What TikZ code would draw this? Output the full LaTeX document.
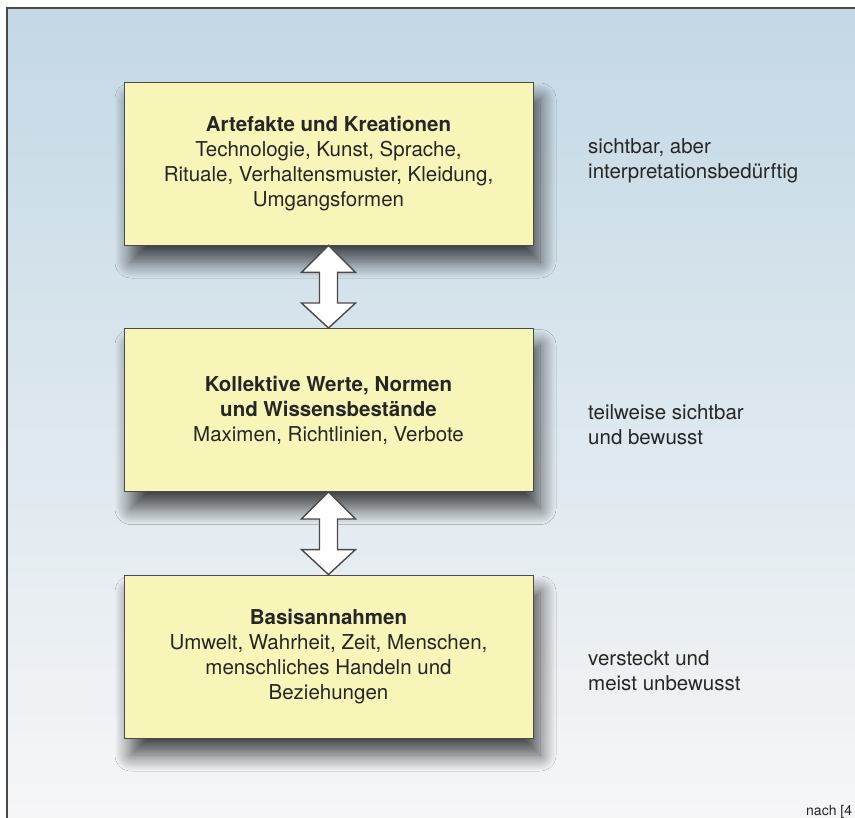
\documentclass[tikz,border=0pt]{standalone}
\usepackage{fontspec}
\setmainfont{TeX Gyre Heros}
\usetikzlibrary{calc,shadows.blur}
\definecolor{bgtop}{HTML}{C3D8E5}
\definecolor{bgmid}{HTML}{D6E2EA}
\definecolor{bgbot}{HTML}{F6F6F7}
\definecolor{boxfill}{HTML}{F8F5B9}
\definecolor{inkgray}{HTML}{262626}
\definecolor{framegray}{HTML}{4A4A4A}
\begin{document}
\begin{tikzpicture}[
    x=1pt, y=-1pt,
    layerbox/.style={draw=framegray, line width=0.9pt, fill=boxfill,
      minimum width=409pt, minimum height=163pt, inner sep=0pt,
      align=center, text=inkgray, font=\fontsize{20.5}{25}\selectfont,
      blur shadow={shadow xshift=7pt, shadow yshift=-17pt,
        shadow blur radius=16pt, shadow blur steps=16, shadow opacity=70}},
    sidelbl/.style={anchor=west, align=left, inner sep=0pt, text=inkgray,
      font=\fontsize{20.5}{25}\selectfont},
    dblarrow/.style={draw=framegray, line width=1.4pt, fill=white, line join=miter}
  ]
  \useasboundingbox (0,0) rectangle (855,818);
  % hintergrund und rahmen
  \shade[top color=bgtop, middle color=bgmid, bottom color=bgbot]
    (7,8) rectangle (855,818);
  \draw[framegray, line width=1.5pt] (7,818) -- (7,8) -- (855,8);

  % ebenen
  \node[layerbox] (artefakte) at (328.5,163.5)
    {\textbf{Artefakte und Kreationen}\\
     Technologie, Kunst, Sprache,\\
     Rituale, Verhaltensmuster, Kleidung,\\
     Umgangsformen};
  \node[layerbox] (werte) at (328.5,410)
    {\textbf{Kollektive Werte, Normen}\\
     \textbf{und Wissensbestände}\\
     Maximen, Richtlinien, Verbote};
  \node[layerbox] (basis) at (328.5,656.5)
    {\textbf{Basisannahmen}\\
     Umwelt, Wahrheit, Zeit, Menschen,\\
     menschliches Handeln und\\
     Beziehungen};

  % doppelpfeile
  \foreach \oben/\unten in {artefakte/werte, werte/basis}{
    \draw[dblarrow] (\oben.south) -- ++(27,27) -- ++(-18,0)
      -- ($(\unten.north)+(9,-25)$) -- ++(18,0) -- (\unten.north)
      -- ++(-27,-25) -- ++(18,0) -- ($(\oben.south)+(-9,27)$)
      -- ++(-18,0) -- cycle;
  }

  % sichtbarkeit
  \node[sidelbl] (sichtbar) at (588,160.5)
    {sichtbar, aber\\interpretationsbedürftig};
  \node[sidelbl] (teilweise) at (588,424.5)
    {teilweise sichtbar\\und bewusst};
  \node[sidelbl] (versteckt) at (588,670.5)
    {versteckt und\\meist unbewusst};

  \node[anchor=base west, inner sep=0pt, text=inkgray,
    font=\fontsize{14}{16}\selectfont] (quelle) at (806,815) {nach [4};
\end{tikzpicture}
\end{document}
